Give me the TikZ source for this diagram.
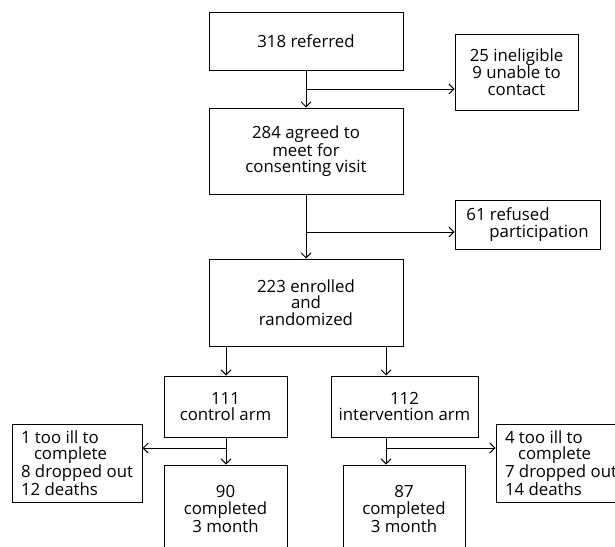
\documentclass[tikz,border=0pt]{standalone}
\usepackage{fontspec}
\setmainfont{Open Sans}
\usetikzlibrary{arrows.meta,calc}
\begin{document}
\begin{tikzpicture}[x=1pt,y=-1pt,
  box/.style={draw, line width=1pt, inner sep=0pt, align=center, font=\fontsize{16.8}{16.5}\selectfont},
  lbox/.style={box, align=left},
  arr/.style={-{Straight Barb[length=5pt,width=10pt]}, line width=1pt}]
\useasboundingbox (0,0) rectangle (615,546);
\clip (0,0) rectangle (615,546);
\node[box, minimum width=194pt, minimum height=58pt] (ref) at (306,41) {318 referred};
\node[box, minimum width=123pt, minimum height=76pt] (inel) at (516.5,72) {25 ineligible\\9 unable to\\contact};
\node[box, minimum width=194pt, minimum height=86pt] (agreed) at (306,151) {284 agreed to\\meet for\\consenting visit};
\node[lbox, minimum width=145pt, minimum height=49pt] (refused) at (527.5,224.5) {61 refused\\\hspace*{23pt}participation};
\node[box, minimum width=194pt, minimum height=87pt] (enrolled) at (306,302.5) {223 enrolled\\and\\randomized};
\node[box, minimum width=123pt, minimum height=61pt] (control) at (225.5,406.5) {111\\control arm};
\node[box, minimum width=147pt, minimum height=61pt] (interv) at (404.5,406.5) {112\\intervention arm};
\node[lbox, minimum width=130pt, minimum height=78pt] (ldrop) at (77,463) {1 too ill to\\\hspace*{13pt}complete\\8 dropped out\\12 deaths};
\node[lbox, minimum width=130pt, minimum height=78pt] (rdrop) at (561,463) {4 too ill to\\\hspace*{13pt}complete\\7 dropped out\\14 deaths};
\node[box, minimum width=123pt, minimum height=88pt] (c90) at (225.5,509) {90\\completed\\3 month};
\node[box, minimum width=122pt, minimum height=88pt] (c87) at (404,509) {87\\completed\\3 month};
% connectors
\draw[arr] (ref.south) -- (agreed.north);
\coordinate (b1) at ($(ref.south)!0.5!(agreed.north)$);
\draw[arr] (b1) -- (b1 -| inel.west);
\draw[arr] (agreed.south) -- (enrolled.north);
\coordinate (b2) at (306,232);
\draw[arr] (b2) -- (b2 -| refused.west);
\coordinate (cx) at (226,0);
\coordinate (ix) at (386,0);
\draw[arr] (enrolled.south -| cx) -- (control.north -| cx);
\draw[arr] (enrolled.south -| ix) -- (interv.north -| ix);
\draw[arr] (control.south -| cx) -- (c90.north -| cx);
\coordinate (b3) at (226,448);
\draw[arr] (b3) -- (b3 -| ldrop.east);
\draw[arr] (interv.south -| ix) -- (c87.north -| ix);
\coordinate (b4) at (386,448);
\draw[arr] (b4) -- (b4 -| rdrop.west);
\end{tikzpicture}
\end{document}
